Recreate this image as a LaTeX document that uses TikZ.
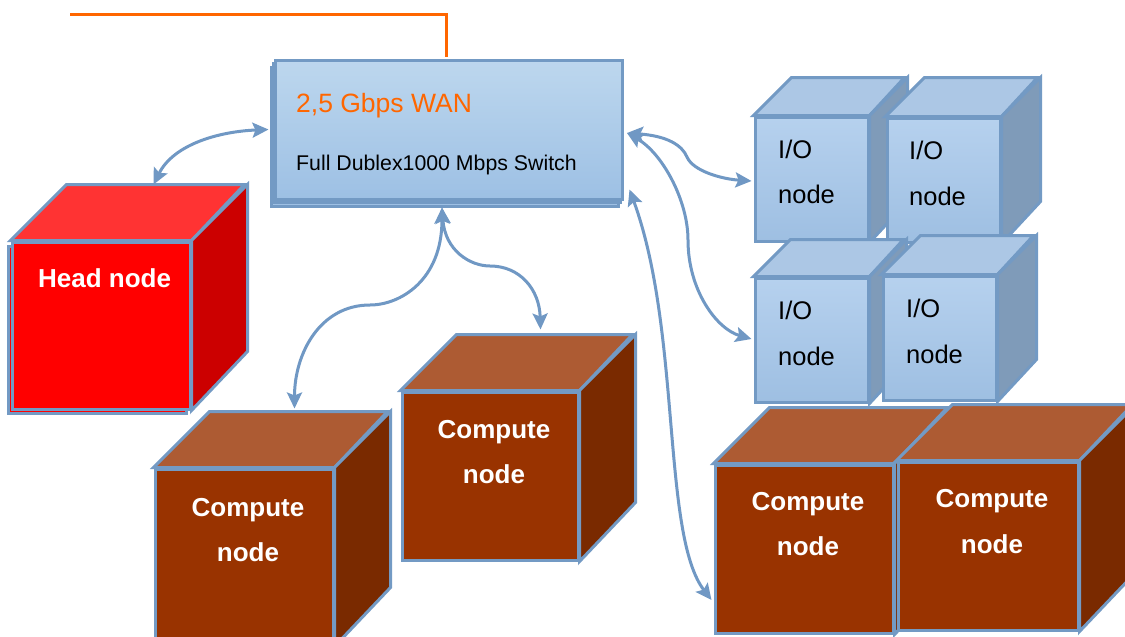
\documentclass[tikz,border=0pt]{standalone}
\usepackage{fontspec}
\setmainfont{Liberation Sans}
\usetikzlibrary{arrows.meta,calc}
\definecolor{bordercol}{RGB}{115,154,196}
\definecolor{arrowcol}{RGB}{112,152,196}
\definecolor{wancol}{RGB}{255,102,0}
\definecolor{swtop}{RGB}{189,215,238}
\definecolor{swbot}{RGB}{157,192,228}
\definecolor{iotop}{RGB}{182,209,238}
\definecolor{iobot}{RGB}{158,191,226}
\definecolor{iotopface}{RGB}{172,199,229}
\definecolor{ioside}{RGB}{127,155,185}
\definecolor{redfront}{RGB}{255,0,0}
\definecolor{redtop}{RGB}{255,51,51}
\definecolor{redside}{RGB}{204,0,0}
\definecolor{cfront}{RGB}{153,51,0}
\definecolor{ctop}{RGB}{173,91,51}
\definecolor{cside}{RGB}{122,42,0}
\tikzset{
  cubeface/.style={draw=bordercol, line width=3pt, inner sep=0pt},
  link/.style={draw=arrowcol, line width=3pt,
    {Stealth[length=16pt,width=15pt,inset=3pt]}-{Stealth[length=16pt,width=15pt,inset=3pt]}},
  wanline/.style={draw=wancol, line width=3pt},
  wantext/.style={text=wancol, font=\fontsize{26.5}{30}\selectfont, anchor=base west, inner sep=0pt},
  swtext/.style={text=black, font=\fontsize{21.3}{25}\selectfont, anchor=base west, inner sep=0pt},
  iotext/.style={text=black, font=\fontsize{25.5}{30}\selectfont, anchor=base west, inner sep=0pt},
  boldtext/.style={text=white, font=\bfseries\fontsize{26}{30}\selectfont, anchor=base, inner sep=0pt},
  swshade/.style={top color=swtop, bottom color=swbot},
  ioshade/.style={top color=iotop, bottom color=iobot}
}
\newcommand\drawcube[8]{%
  \node[cubeface,#6,minimum width=#3pt,minimum height=#4pt] (#1) at (#2) {};
  \draw[cubeface,fill=#7] (#1.north west) -- ++(#5,-#5) -- ++(#3,0) -- (#1.north east) -- cycle;
  \draw[cubeface,fill=#8] (#1.north east) -- ++(#5,-#5) -- ++(0,#4) -- (#1.south east) -- cycle;
}
\begin{document}
\begin{tikzpicture}[x=1pt,y=-1pt]
\path[use as bounding box] (0,0) rectangle (1125,637);
\clip (0,0) rectangle (1125,637);
\fill[white] (0,0) rectangle (1125,637);

% switch with stacked copies
\node[cubeface,swshade,minimum width=347pt,minimum height=139pt] (swS2) at (445,137) {};
\node[cubeface,swshade,minimum width=347pt,minimum height=139pt] (swS1) at (446.75,133.25) {};
\node[cubeface,swshade,minimum width=347pt,minimum height=139pt] (sw) at (448.5,129.5) {};
\node[wantext] (wanlbl) at (296,112.5) {2,5 Gbps WAN};
\node[swtext] (swlbl) at (296,170) {Full Dublex1000 Mbps Switch};

% WAN line
\coordinate (wanstart) at (70,14);
\draw[wanline] (wanstart) -| ($(sw.north)+(-2.5,-1.5)$);

% head node
\node[cubeface,fill=redfront,minimum width=178pt,minimum height=167pt] (headS) at (97,329.5) {};
\drawcube{head}{101,325.5}{178}{167}{56}{fill=redfront}{redtop}{redside}
\node[boldtext,anchor=base west] (headlbl) at (38,287) {Head node};

% I/O nodes
\drawcube{io1}{811.5,179}{113}{124}{38}{ioshade}{iotopface}{ioside}
\drawcube{io2}{943.5,180}{113}{124}{39}{ioshade}{iotopface}{ioside}
\drawcube{io3}{811.5,340}{113}{124}{37}{ioshade}{iotopface}{ioside}
\drawcube{io4}{939.5,338}{113}{124}{39}{ioshade}{iotopface}{ioside}
\node[iotext] (io1a) at (778,158) {I/O};
\node[iotext] (io1b) at (778,203) {node};
\node[iotext] (io2a) at (909,159) {I/O};
\node[iotext] (io2b) at (909,205) {node};
\node[iotext] (io3a) at (778,319) {I/O};
\node[iotext] (io3b) at (778,365) {node};
\node[iotext] (io4a) at (906,317) {I/O};
\node[iotext] (io4b) at (906,363) {node};

% compute nodes
\drawcube{c1}{244,557}{178}{176}{56}{fill=cfront}{ctop}{cside}
\drawcube{c2}{490,476}{176}{168}{56}{fill=cfront}{ctop}{cside}
\drawcube{c3}{804,549}{178}{168}{56}{fill=cfront}{ctop}{cside}
\drawcube{c4}{988,546}{180}{168}{56}{fill=cfront}{ctop}{cside}
\node[boldtext] (c1a) at (248,516) {Compute};
\node[boldtext] (c1b) at (248,561) {node};
\node[boldtext] (c2a) at (494,438) {Compute};
\node[boldtext] (c2b) at (494,483) {node};
\node[boldtext] (c3a) at (808,510) {Compute};
\node[boldtext] (c3b) at (808,555) {node};
\node[boldtext] (c4a) at (992,507) {Compute};
\node[boldtext] (c4b) at (992,553) {node};

% connector end points
\coordinate (swW) at ($(sw.west)+(-5,0)$);
\coordinate (swB) at ($(sw.south)+(-6.5,7)$);
\coordinate (swR1) at ($(sw.east)+(3.5,3.5)$);
\coordinate (swR2) at ($(sw.south east)+(6,-11)$);
\coordinate (hT) at ($(head.north west)+(143,-56)$);
\coordinate (c1T) at ($(c1.north west)+(141,-59)$);
\coordinate (c2T) at ($(c2.north west)+(140,-61)$);
\coordinate (io1T) at ($(io1.west)+(-2,2)$);
\coordinate (io3T) at ($(io3.west)+(-2,-1)$);
\coordinate (c3T) at ($(c3.west)+(-2,51)$);
\coordinate (m1) at (370,305);
\coordinate (m2) at (490,266);
\coordinate (m3) at (687,157);
\coordinate (m4) at (688,240);

% connectors
\draw[link] (hT) .. controls +(20,-40) and +(-50,2) .. (swW);
\draw[link] (swB) .. controls +(0,73) and +(30,0) .. (m1) .. controls +(-50,0) and +(0,-55) .. (c1T);
\draw[link] (swB) .. controls +(3,43) and +(-20,0) .. (m2) .. controls +(30,0) and +(-1,-40) .. (c2T);
\draw[link] (swR1) .. controls +(40,3) and +(-5,-12) .. (m3) .. controls +(6,14) and +(-30,-2) .. (io1T);
\draw[link] (swR1) .. controls +(35,20) and +(0,-40) .. (m4) .. controls +(0,50) and +(-35,-10) .. (io3T);
\draw[link] (swR2) .. controls +(52,142) and +(-50,-65) .. (c3T);
\end{tikzpicture}
\end{document}
